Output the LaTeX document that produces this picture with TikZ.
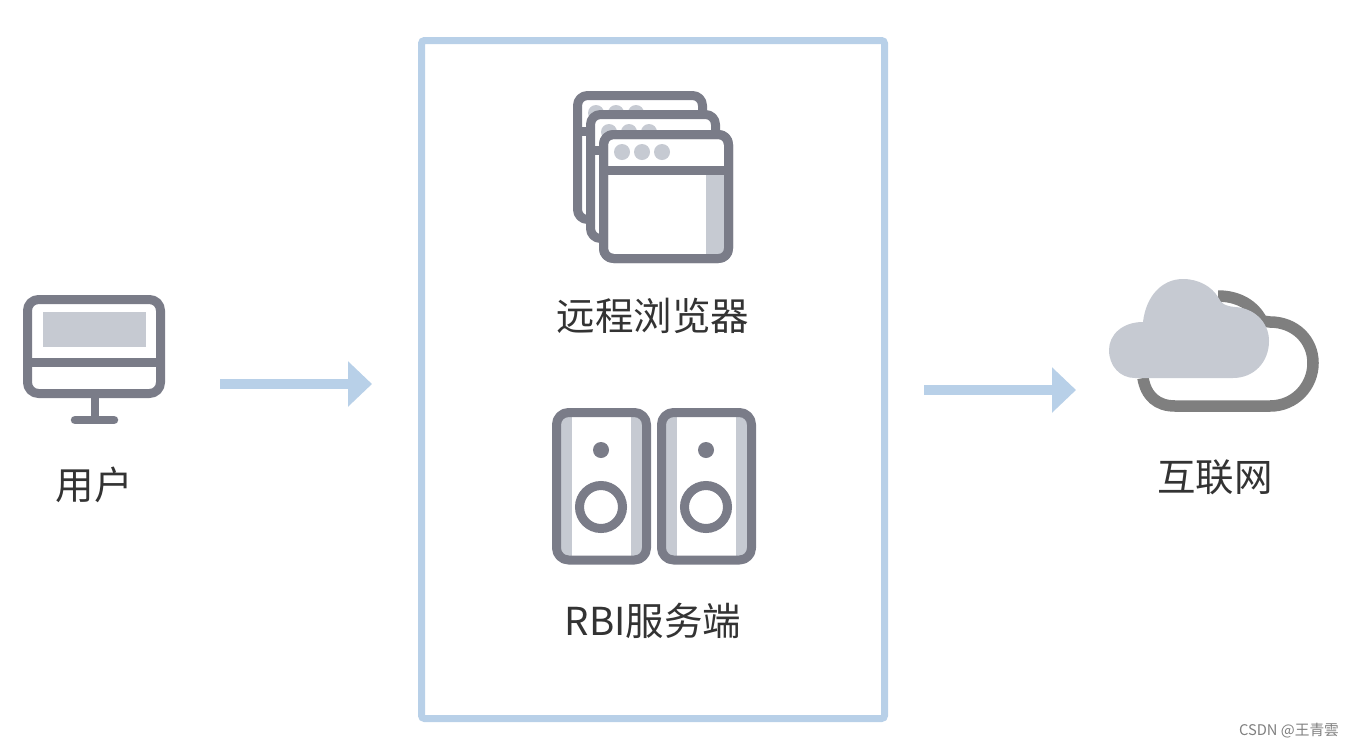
\documentclass[tikz,border=0pt]{standalone}
\usepackage{fontspec}
\setmainfont{Noto Sans CJK SC}
\usetikzlibrary{arrows.meta}
\definecolor{iconc}{HTML}{7A7C88}
\definecolor{greyc}{HTML}{C6CAD2}
\definecolor{bluec}{HTML}{B8D0E8}
\definecolor{cloudl}{HTML}{7F7F7F}
\definecolor{txtc}{HTML}{333333}
\tikzset{
  frameline/.style={draw=iconc,line width=9pt,rounded corners=10pt,line join=round},
  flow/.style={draw=bluec,line width=10pt,-{Triangle[length=24pt,width=44pt,fill=bluec]}},
  lbl/.style={text=txtc,inner sep=0pt,font=\fontsize{38.5}{42}\selectfont},
  dotg/.style={fill=greyc,draw=none},
  doti/.style={fill=iconc,draw=none},
  strip/.style={fill=greyc,draw=none},
}
\begin{document}
\begin{tikzpicture}[x=1pt,y=-1pt]
\useasboundingbox (0,0) rectangle (1354,748);
\fill[white] (0,0) rectangle (1354,748);
% central box
\node[draw=bluec,line width=7pt,rounded corners=3pt,minimum width=463pt,minimum height=678pt,inner sep=0pt] (box) at (653,379.5) {};
% monitor
\fill[greyc] (43,312) rectangle (146,347);
\draw[frameline,rounded corners=11pt] (27.5,299.5) rectangle (160.5,393.5);
\draw[draw=iconc,line width=9pt] (27,362) -- (161,362);
\draw[draw=iconc,line width=8.5pt] (95,398) -- (95,420);
\draw[draw=iconc,line width=8.5pt,line cap=round] (75,420) -- (114,420);
\node[lbl] (user) at (94,485) {用户};
% browsers
\foreach \dx/\dy in {-26/-39, -13/-20}{
  \begin{scope}[shift={(\dx,\dy)}]
    \draw[frameline,fill=white] (603.5,134.5) rectangle (728.5,258.5);
    \draw[draw=iconc,line width=9pt] (603,170) -- (729,170);
    \foreach \cx in {622,642,662} \fill[dotg] (\cx,152) circle (8pt);
  \end{scope}
}
\draw[frameline,fill=white] (603.5,134.5) rectangle (728.5,258.5);
\fill[greyc] (706,172) rectangle (725,255);
\foreach \cx in {622,642,662} \fill[dotg] (\cx,152) circle (8pt);
\draw[draw=iconc,line width=9pt] (603,170) -- (729,170);
\draw[frameline] (603.5,134.5) rectangle (728.5,258.5);
\node[lbl] (browser) at (653,316) {远程浏览器};
% speakers
\foreach \dx in {0,105}{
  \begin{scope}[xshift=\dx pt]
    \fill[greyc] (560,416) rectangle (572,556);
    \fill[greyc] (631,416) rectangle (643,556);
    \draw[frameline,rounded corners=12pt] (556.5,412.5) rectangle (646.5,560);
    \fill[doti] (601,450) circle (8pt);
    \draw[draw=iconc,line width=9pt] (601,507) circle (21.5pt);
  \end{scope}
}
\node[lbl] (server) at (653,621) {RBI服务端};
% cloud
\draw[draw=cloudl,line width=11.5pt]
  (1143,378) .. controls (1146,396) and (1157,406) .. (1175,406)
  -- (1270,406)
  .. controls (1295,406) and (1313,386) .. (1313,363)
  .. controls (1313,340) and (1295,322) .. (1270,322)
  -- (1262,321)
  .. controls (1254,305) and (1238,296) .. (1218,296);
\fill[greyc]
  (1135,378) .. controls (1120,378) and (1109,366) .. (1109,350)
  .. controls (1109,335) and (1122,322) .. (1143,322)
  .. controls (1146,296) and (1162,279) .. (1183,279)
  .. controls (1199,279) and (1212,287) .. (1218,297)
  .. controls (1221,303) and (1224,306) .. (1235,307)
  .. controls (1254,308) and (1269,322) .. (1269,341)
  .. controls (1269,362) and (1254,378) .. (1233,378)
  -- cycle;
\node[lbl] (net) at (1215,477) {互联网};
% arrows
\coordinate (a1s) at (220,384);
\coordinate (a1e) at (372,384);
\coordinate (a2s) at (924,390);
\coordinate (a2e) at (1076,390);
\draw[flow] (a1s) -- (a1e);
\draw[flow] (a2s) -- (a2e);
% watermark
\node[text=gray,inner sep=0pt,font=\fontsize{14.7}{16}\selectfont] (wm) at (1289,731) {CSDN @王青雲};
\end{tikzpicture}
\end{document}
